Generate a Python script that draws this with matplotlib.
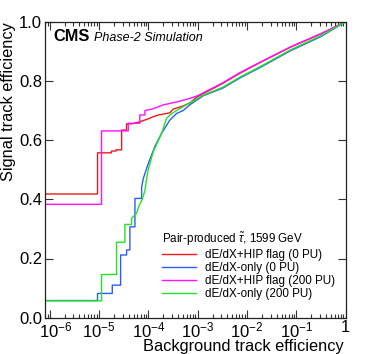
import math
import matplotlib
matplotlib.use('Agg')
from matplotlib import pyplot as plt
from matplotlib.ticker import LogLocator, FixedLocator, FuncFormatter, NullLocator
from matplotlib.transforms import ScaledTranslation

plt.rcParams['font.family'] = ['Liberation Sans', 'DejaVu Sans']
plt.rcParams['mathtext.fontset'] = 'custom'
plt.rcParams['mathtext.rm'] = 'Liberation Sans'
plt.rcParams['mathtext.it'] = 'Liberation Sans:italic'
plt.rcParams['mathtext.bf'] = 'Liberation Sans:bold'

# Data aflæst fra figuren
# dE/dX+HIP flag (0 PU)
red_x = [8e-7, 9.3e-6, 9.3e-6, 1.78e-5, 1.78e-5, 2.2e-5, 2.2e-5, 2.86e-5, 2.86e-5, 3.6e-5, 3.6e-5,
         4.6e-5, 6.7e-5, 1.0e-4, 1.25e-4, 1.6e-4, 2.7e-4, 3.2e-4, 5.0e-4, 7.0e-4, 9.5e-4,
         3.16e-3, 7.2e-3, 1.83e-2, 7.4e-2, 0.316, 1.0]
red_y = [0.418, 0.418, 0.557, 0.557, 0.563, 0.563, 0.567, 0.567, 0.634, 0.634, 0.655,
         0.655, 0.662, 0.672, 0.679, 0.685, 0.692, 0.705, 0.715, 0.726, 0.745,
         0.791, 0.826, 0.862, 0.913, 0.959, 1.0]

# dE/dX-only (0 PU)
blue_x = [8e-7, 9.3e-6, 9.3e-6, 1.85e-5, 1.85e-5, 2.73e-5, 2.73e-5, 3.61e-5, 3.61e-5, 4.21e-5, 4.21e-5,
          5.33e-5, 5.33e-5, 7.28e-5, 7.28e-5, 7.85e-5, 9.9e-5, 1.35e-4, 1.85e-4, 2.73e-4, 3.73e-4,
          5.08e-4, 7.0e-4, 1.3e-3, 3.16e-3, 7.2e-3, 1.83e-2, 7.4e-2, 0.316, 1.0]
blue_y = [0.058, 0.058, 0.082, 0.082, 0.110, 0.110, 0.212, 0.212, 0.229, 0.229, 0.307,
          0.307, 0.403, 0.403, 0.440, 0.470, 0.520, 0.578, 0.623, 0.668, 0.690,
          0.700, 0.720, 0.750, 0.775, 0.810, 0.845, 0.901, 0.950, 1.0]

# dE/dX+HIP flag (200 PU)
mag_x = [8e-7, 1.12e-5, 1.12e-5, 3.9e-5, 3.9e-5, 6.7e-5, 6.7e-5, 8.5e-5, 8.5e-5, 1.2e-4, 2.0e-4,
         4.0e-4, 6.95e-4, 1.0e-3, 3.16e-3, 7.2e-3, 1.83e-2, 7.4e-2, 0.316, 1.0]
mag_y = [0.383, 0.383, 0.631, 0.631, 0.657, 0.657, 0.685, 0.685, 0.700, 0.705, 0.719,
         0.730, 0.741, 0.750, 0.793, 0.828, 0.863, 0.914, 0.960, 1.0]

# dE/dX-only (200 PU)
green_x = [8e-7, 1.12e-5, 1.12e-5, 2.26e-5, 2.26e-5, 3.33e-5, 3.33e-5, 4.56e-5, 4.56e-5, 5.76e-5, 6.5e-5,
           7.5e-5, 8.5e-5, 9.2e-5, 9.9e-5, 1.25e-4, 1.85e-4, 2.16e-4, 2.34e-4, 2.96e-4, 3.73e-4,
           4.36e-4, 6.95e-4, 1.3e-3, 3.16e-3, 7.2e-3, 1.83e-2, 7.4e-2, 0.316, 1.0]
green_y = [0.057, 0.057, 0.146, 0.146, 0.255, 0.255, 0.315, 0.315, 0.336, 0.353, 0.380,
           0.400, 0.430, 0.470, 0.500, 0.560, 0.623, 0.657, 0.674, 0.690, 0.700,
           0.707, 0.726, 0.752, 0.778, 0.813, 0.848, 0.904, 0.953, 1.0]

labels = ['dE/dX+HIP flag (0 PU)', 'dE/dX-only (0 PU)',
          'dE/dX+HIP flag (200 PU)', 'dE/dX-only (200 PU)']
colors = ['#f01818', '#2a5cff', '#ff10ff', '#20e620']
y_ticks = [0.0, 0.2, 0.4, 0.6, 0.8, 1.0]
x_ticks = [1e-6, 1e-5, 1e-4, 1e-3, 1e-2, 1e-1, 1]

fig = plt.figure(figsize=(3.66, 3.54), dpi=100)
ax = fig.add_axes([45 / 366, 1 - 317.7 / 354, 300.7 / 366, 296 / 354])

series = [(red_x, red_y), (blue_x, blue_y), (mag_x, mag_y), (green_x, green_y)]
handles = []
for (xs, ys), c, lab in zip(series, colors, labels):
    h, = ax.plot(xs, ys, color=c, lw=1.0, label=lab)
    handles.append(h)

ax.set_xscale('log')
ax.set_xlim(8e-7, 1)
ax.set_ylim(0, 1)

ax.xaxis.set_major_locator(FixedLocator(x_ticks))
ax.xaxis.set_minor_locator(LogLocator(base=10, subs=range(2, 10), numticks=20))


def xfmt(v, pos):
    # 10^0 skrives som "1" ligesom i ROOT
    if abs(v - 1) < 1e-9:
        return '1'
    return r'$10^{%d}$' % round(math.log10(v))


ax.xaxis.set_major_formatter(FuncFormatter(xfmt))
ax.yaxis.set_major_locator(FixedLocator(y_ticks))
ax.yaxis.set_minor_locator(NullLocator())
ax.yaxis.set_major_formatter(FuncFormatter(lambda v, p: '%.1f' % v))

ax.tick_params(which='both', direction='in', top=True, right=True, width=0.8, color='#333333')
ax.tick_params(which='major', length=6)
ax.tick_params(which='minor', length=3)
ax.tick_params(axis='x', labelsize=12, pad=2)
ax.tick_params(axis='y', labelsize=12, pad=2)
for s in ax.spines.values():
    s.set_linewidth(0.9)
    s.set_color('#222222')

# Første label (10^-6) skubbes lidt ind, så den ikke rammer "0.0"
first = ax.xaxis.get_majorticklabels()[0]
first.set_transform(first.get_transform() + ScaledTranslation(0.06, 0, fig.dpi_scale_trans))

ax.set_xlabel('Background track efficiency', fontsize=11.8, loc='right')
ax.xaxis.set_label_coords(0.993, -0.071)
ax.set_ylabel('Signal track efficiency', fontsize=11.8, loc='top')
ax.yaxis.set_label_coords(-0.098, 1.0)

ax.text(0.027, 0.935, 'CMS', transform=ax.transAxes, fontsize=11.8, fontweight='bold',
        ha='left', va='baseline')
ax.text(0.163, 0.935, 'Phase-2 Simulation', transform=ax.transAxes, fontsize=9,
        style='italic', ha='left', va='baseline')

leg = ax.legend(handles, labels, loc='upper left', bbox_to_anchor=(0.39, 0.295),
                frameon=False, fontsize=8.4, title=r'Pair-produced $\tilde{\tau}$, 1599 GeV',
                title_fontsize=8.4, alignment='left', handlelength=2.85, handletextpad=0.85,
                labelspacing=0.1, borderpad=0, borderaxespad=0)

fig.savefig('out.png', dpi=100)
